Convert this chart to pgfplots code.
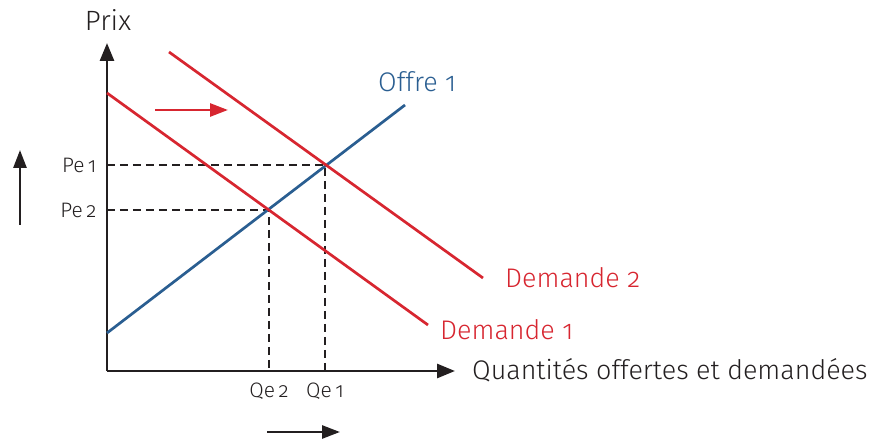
\documentclass[border=0pt]{standalone}
\usepackage{fontspec}
\setmainfont{Fira Sans}[UprightFont=* Light, Numbers=OldStyle]
\usepackage{pgfplots}
\pgfplotsset{compat=1.18}
\usetikzlibrary{arrows.meta}
\definecolor{dred}{RGB}{215,38,48}
\definecolor{dblue}{RGB}{42,94,145}
\definecolor{txt}{RGB}{35,31,32}
\begin{document}
\begin{tikzpicture}
\begin{axis}[
  scale only axis, width=348bp, height=328bp,
  xmin=0, xmax=348, ymin=0, ymax=328,
  axis lines=left,
  x axis line style={line width=2.8bp, txt, -{Triangle[length=18bp,width=14bp]}},
  y axis line style={line width=2.8bp, txt, -{Triangle[length=18bp,width=14bp]}},
  clip=false,
  xtick={162,218}, xticklabels={Qe\,2, Qe\,1},
  ytick={161,206}, yticklabels={Pe\,2, Pe\,1},
  major tick length=0pt,
  tick label style={font=\fontsize{21}{22}\selectfont, text=txt},
  xticklabel style={yshift=-8bp},
  yticklabel style={xshift=-7bp},
]
\path (axis cs:-107,-66) rectangle (axis cs:771,371);
% dashed guides
\addplot[txt, line width=2.6bp, dash pattern=on 8bp off 5bp] coordinates {(0,206) (218,206) (218,0)};
\addplot[txt, line width=2.6bp, dash pattern=on 8bp off 5bp] coordinates {(0,161) (162,161) (162,0)};
% curves
\addplot[dblue, line width=2.7bp] coordinates {(0,38) (298,266)};
\addplot[dred, line width=2.7bp] coordinates {(0,278) (321,46)};
\addplot[dred, line width=2.7bp] coordinates {(62,319) (376,93)};
% shift arrows
\addplot[dred, line width=2.7bp, -{Triangle[length=18bp,width=13bp]}] coordinates {(48,261) (121,261)};
\addplot[txt, line width=2.7bp, -{Triangle[length=18bp,width=13bp]}] coordinates {(-87,146) (-87,221)};
\addplot[txt, line width=2.7bp, -{Triangle[length=18bp,width=13bp]}] coordinates {(160,-61) (233,-61)};
% labels
\node[font=\fontsize{28}{30}\selectfont, text=txt] at (axis cs:1,351) {Prix};
\node[anchor=west, font=\fontsize{27}{28}\selectfont, text=dblue, inner sep=0pt] at (axis cs:271,289) {Offre 1};
\node[anchor=west, font=\fontsize{27}{28}\selectfont, text=dred, inner sep=0pt] at (axis cs:398,93) {Demande 2};
\node[anchor=west, font=\fontsize{27}{28}\selectfont, text=dred, inner sep=0pt] at (axis cs:333,41) {Demande 1};
\node[anchor=west, font=\fontsize{27}{28}\selectfont, text=txt, inner sep=0pt] at (axis cs:365,1) {Quantités offertes et demandées};
\end{axis}
\end{tikzpicture}
\end{document}
